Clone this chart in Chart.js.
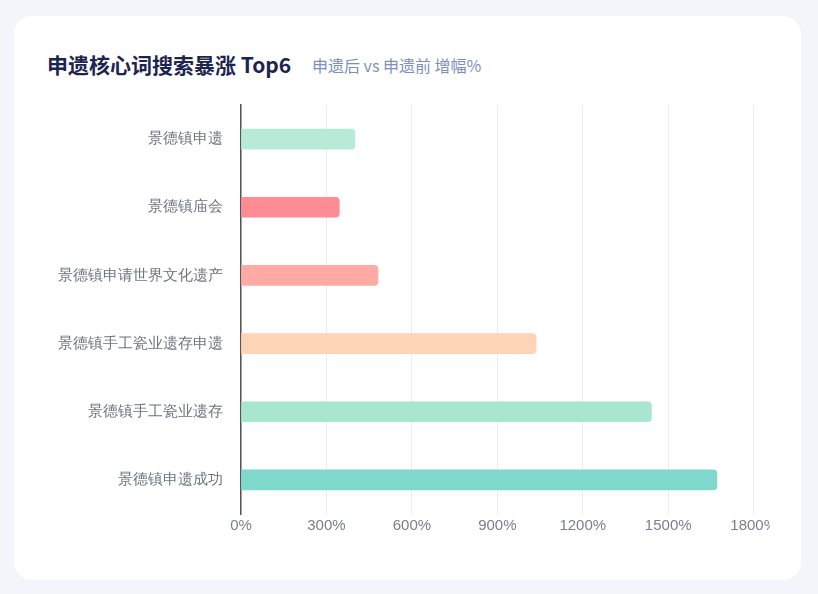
<!DOCTYPE html>
<html><head><meta charset="utf-8">
<script src="https://cdn.jsdelivr.net/npm/chart.js@4"></script>
<style>
body{margin:0;background:#f3f5fa;font-family:"Noto Sans CJK SC","Noto Sans",sans-serif;}
.card{position:absolute;left:14px;top:16px;width:787px;height:564px;background:#fff;border-radius:18px;}
.title{position:absolute;left:33px;top:33px;font-size:21px;font-weight:700;color:#1c2550;}
.sub{position:absolute;left:298px;top:37px;font-size:16px;color:#7d8fbf;}
.wrap{position:absolute;left:16px;top:70px;width:740px;height:490px;overflow:hidden;}
canvas{position:absolute;left:0;top:0;}
</style></head><body>
<div class="card">
<div class="title">申遗核心词搜索暴涨 Top6</div>
<div class="sub">申遗后 vs 申遗前 增幅%</div>
<div class="wrap"><div style="position:absolute;left:0;top:0;width:750px;height:470px"><canvas id="c"></canvas></div></div>
</div>
<script>
const categories = ['景德镇申遗','景德镇庙会','景德镇申请世界文化遗产','景德镇手工瓷业遗存申遗','景德镇手工瓷业遗存','景德镇申遗成功'];
const growth = [400, 345, 481, 1036, 1441, 1671];
const colors = ['#b6ecd7','#ff8b94','#ffaaa5','#ffd3b6','#a8e6cf','#7fd8cc'];

new Chart(document.getElementById('c'), {
  type: 'bar',
  data: { labels: categories, datasets: [{ data: growth, backgroundColor: colors, barThickness: 20,
    borderRadius: {topRight: 4, bottomRight: 4}, borderSkipped: false }] },
  options: {
    indexAxis: 'y', responsive: true, maintainAspectRatio: false, animation: false,
    layout: { padding: { top: 4, bottom: 18 } },
    plugins: { legend: { display: false }, tooltip: { enabled: false } },
    scales: {
      x: { min: 0, max: 1800, ticks: { stepSize: 300, callback: v => v + '%', color: '#7a7f8c', font: { size: 15 } },
           grid: { color: '#ececec', drawTicks: false }, border: { display: false } },
      y: { ticks: { color: '#6e7380', font: { size: 15 }, padding: 10 },
           grid: { display: false }, border: { color: '#555', width: 1.5 },
           afterFit: s => { s.width = 211; } }
    }
  }
});
</script>
</body></html>
